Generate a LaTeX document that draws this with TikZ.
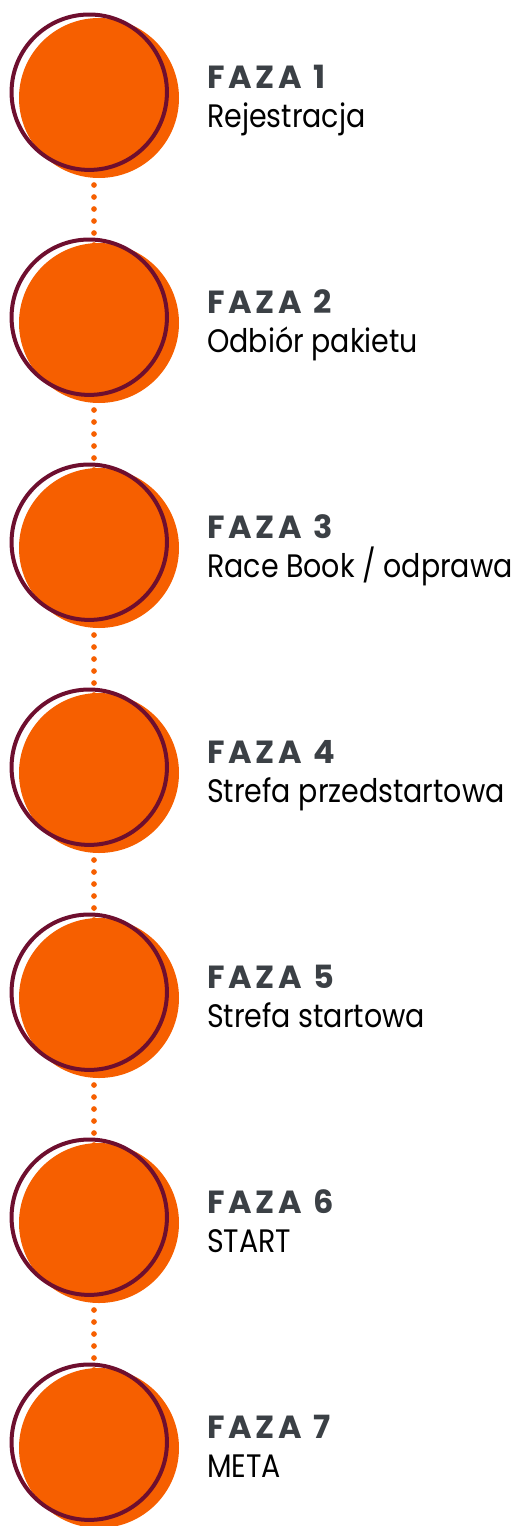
\documentclass[tikz,border=0pt]{standalone}
\usepackage{fontspec}
\setmainfont{Poppins}
\newfontfamily\fazafont[LetterSpace=12]{Poppins}

\definecolor{faza orange}{HTML}{F65F00}
\definecolor{faza maroon}{HTML}{6E0F2F}
\definecolor{faza gray}{HTML}{3B4045}

\newcommand{\narrow}[1]{\scalebox{0.876}[1]{#1}}

\tikzset{
	disc/.style={circle, fill=faza orange, minimum size=160pt, inner sep=0pt},
	ring/.style={circle, draw=faza maroon, line width=4pt, minimum size=155.4pt, inner sep=0pt},
	trail/.style={draw=faza orange, line width=5.7pt, line cap=round, dash pattern=on 0pt off 12pt},
	phase/.style={anchor=base west, inner sep=0pt, text=faza gray, font=\fazafont\bfseries\fontsize{32}{32}\selectfont},
	title/.style={anchor=base west, inner sep=0pt, text=black, font=\fontsize{32.5}{32.5}\selectfont}
}

\begin{document}
\begin{tikzpicture}[x=1pt,y=-1pt]
	\useasboundingbox (0,0) rectangle (519,1526);

	% dotted trail between the phases
	\foreach \i [evaluate=\i as \y using 225*(\i-1)] in {1,...,6} {
		\coordinate (up\i) at (94,\y+185);
		\coordinate (down\i) at (94,\y+245);
		\draw[trail] (up\i) -- (down\i);
	}

	% circles and labels
	\foreach \i/\name [evaluate=\i as \y using 225*(\i-1)] in
		{1/Rejestracja, 2/Odbiór pakietu, 3/{Race Book / odprawa},
		 4/Strefa przedstartowa, 5/Strefa startowa, 6/START, 7/META} {
		\node[disc] (disc\i) at (99,\y+98) {};
		\node[ring] (ring\i) at (89.25,\y+92.2) {};
		\node[phase] (phase\i) at (207,\y+88.3) {FAZA \i};
		\node[title] (title\i) at (207,\y+127.7) {\narrow{\name}};
	}
\end{tikzpicture}
\end{document}
